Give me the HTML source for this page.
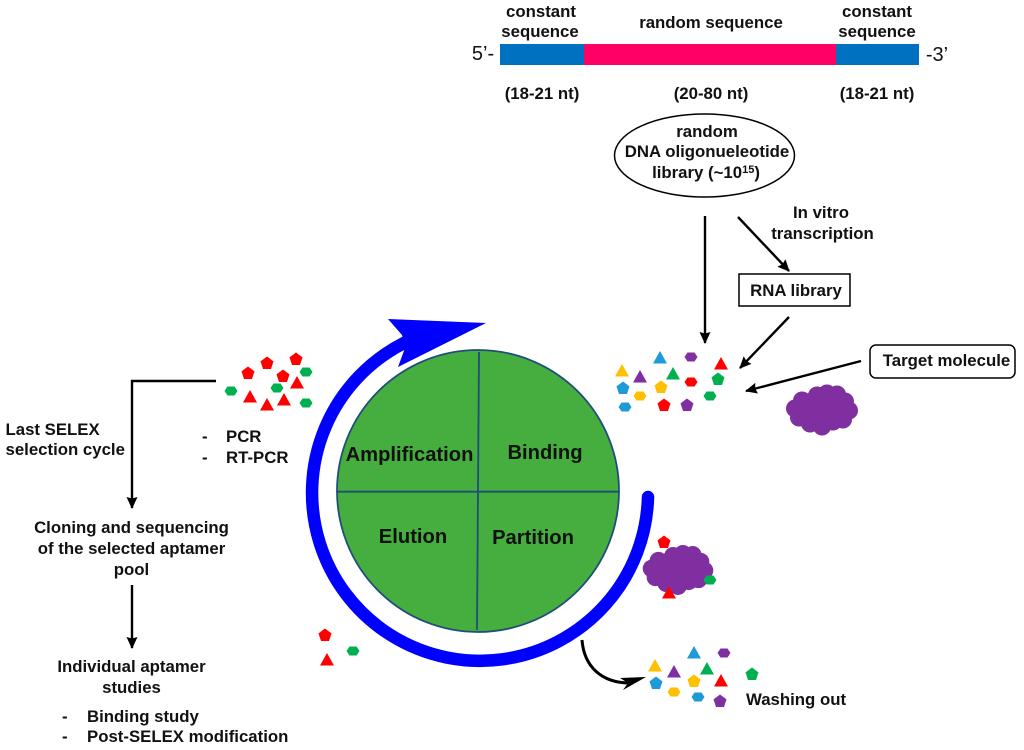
<!DOCTYPE html>
<html><head><meta charset="utf-8"><style>
html,body{margin:0;padding:0;background:#fff}
svg{display:block}
text{font-family:"Liberation Sans",Arial,sans-serif;font-weight:bold;fill:#111;font-size:16.8px;text-anchor:middle}
.l{text-anchor:start}
.c{font-size:20.2px}
.n{font-weight:normal;font-size:20px}
</style></head><body>
<svg width="1024" height="750" viewBox="0 0 1024 750" xmlns="http://www.w3.org/2000/svg">
<defs>
<polygon id="p" points="0,-6.5 6.5,-1.6 4,6 -4,6 -6.5,-1.6"/>
<polygon id="h" points="-3.5,-4.5 3.5,-4.5 6.5,0 3.5,4.5 -3.5,4.5 -6.5,0"/>
<polygon id="t" points="0,-7 7,5.5 -7,5.5"/>
<marker id="a" markerWidth="14" markerHeight="14" refX="11" refY="5.5" orient="auto" markerUnits="userSpaceOnUse"><polygon points="0,0 12,5.5 0,11 1.5,5.5" fill="#000"/></marker>
<g id="cl">
<ellipse cx="0" cy="0" rx="28" ry="19"/>
<circle cx="-5" cy="-14" r="9"/><circle cx="5" cy="-16" r="9"/><circle cx="15" cy="-15" r="9"/><circle cx="23" cy="-8" r="9"/>
<circle cx="27" cy="1" r="9"/><circle cx="21" cy="10" r="9"/><circle cx="11" cy="12" r="9"/><circle cx="0" cy="17" r="9"/>
<circle cx="-12" cy="14" r="9"/><circle cx="-23" cy="8" r="9"/><circle cx="-27" cy="-1" r="9"/><circle cx="-20" cy="-9" r="9"/>
</g>
</defs>

<!-- top sequence -->
<rect x="500" y="44" width="84" height="21" fill="#0070c0"/>
<rect x="584" y="44" width="252" height="21" fill="#ff0066"/>
<rect x="836" y="44" width="83" height="21" fill="#0070c0"/>
<text x="541" y="17">constant</text><text x="540" y="37">sequence</text>
<text x="711" y="28">random sequence</text>
<text x="877" y="17">constant</text><text x="877" y="37">sequence</text>
<text class="n" x="483" y="60">5’-</text>
<text class="n" x="937" y="61">-3’</text>
<text x="542" y="99">(18-21 nt)</text><text x="711" y="99">(20-80 nt)</text><text x="877" y="99">(18-21 nt)</text>

<ellipse cx="704.5" cy="155.5" rx="90" ry="41.5" fill="#fff" stroke="#000" stroke-width="1.5"/>
<text x="707" y="137">random</text>
<text x="707" y="157">DNA oligonueleotide</text>
<text x="706" y="178">library (~10<tspan font-size="11" dy="-5">15</tspan><tspan dy="5">)</tspan></text>

<text x="821" y="218">In vitro</text><text x="822.5" y="239">transcription</text>
<rect x="739" y="274" width="111" height="32" fill="#fff" stroke="#000" stroke-width="1.5"/>
<text x="796" y="296">RNA library</text>
<rect x="870" y="345" width="145" height="33" rx="6" fill="#fff" stroke="#000" stroke-width="1.5"/>
<text x="946.5" y="366">Target molecule</text>

<g stroke="#000" stroke-width="2.4" fill="none" marker-end="url(#a)">
<path d="M705 216V343"/>
<path d="M738 217L789 271"/>
<path d="M789 317L740 368"/>
<path d="M861 361L746 391"/>
<path d="M216 381H132V508"/>
<path d="M132 585V648"/>
</g>

<!-- circle -->
<circle cx="478" cy="491" r="141" fill="#45ae3e" stroke="#1f4e79" stroke-width="1.8"/>
<path d="M479 352L477 630M337 491.7H619" stroke="#1f4e79" stroke-width="1.8" fill="none"/>
<text class="c" x="409.5" y="461">Amplification</text>
<text class="c" x="545" y="459">Binding</text>
<text class="c" x="413" y="543">Elution</text>
<text class="c" x="533" y="544">Partition</text>

<!-- blue arrow -->
<path d="M648 497A168 168 0 1 1 404 343" fill="none" stroke="#0000ff" stroke-width="12.5" stroke-linecap="round"/>
<polygon points="388,319 486,323 398,367 405,348 402,335" fill="#0000ff"/>

<!-- left cluster -->
<g fill="#ff0000">
<use href="#p" x="267" y="363"/><use href="#p" x="296" y="359"/><use href="#p" x="248" y="373"/><use href="#p" x="283" y="376"/>
<use href="#t" x="297" y="383"/><use href="#t" x="250" y="397"/><use href="#t" x="284" y="400"/><use href="#t" x="267" y="405"/>
<use href="#p" x="325" y="635"/><use href="#t" x="327" y="660"/>
</g>
<g fill="#00b050">
<use href="#h" x="306" y="372"/><use href="#h" x="231" y="391"/><use href="#h" x="277" y="388"/><use href="#h" x="306" y="403"/>
<use href="#h" x="353" y="651"/>
</g>

<!-- right cluster -->
<use href="#t" x="622" y="371" fill="#ffc000"/><use href="#t" x="660" y="358" fill="#1e9ad6"/><use href="#h" x="691" y="357" fill="#7f2fa0"/>
<use href="#t" x="721" y="364" fill="#ff0000"/><use href="#t" x="640" y="377" fill="#7f2fa0"/><use href="#t" x="673" y="374" fill="#00b050"/>
<use href="#p" x="718" y="379" fill="#00b050"/><use href="#p" x="623" y="388" fill="#1e9ad6"/><use href="#p" x="661" y="387" fill="#ffc000"/>
<use href="#h" x="691" y="382" fill="#ff0000"/><use href="#h" x="640" y="396" fill="#ffc000"/><use href="#h" x="710" y="396" fill="#00b050"/>
<use href="#h" x="625" y="407" fill="#1e9ad6"/><use href="#p" x="664" y="405" fill="#ff0000"/><use href="#p" x="687" y="405" fill="#7f2fa0"/>

<!-- clouds -->
<use href="#cl" transform="translate(822 409.5)" fill="#7f2fa0"/>
<use href="#cl" transform="translate(678 569.5) scale(.98)" fill="#7f2fa0"/>
<use href="#p" x="664" y="542" fill="#ff0000"/><use href="#h" x="710" y="580" fill="#00b050"/><use href="#t" x="669" y="593" fill="#ff0000"/>

<!-- washing out -->
<use href="#t" x="655" y="666" fill="#ffc000"/><use href="#t" x="694" y="653" fill="#1e9ad6"/><use href="#h" x="724" y="653" fill="#7f2fa0"/>
<use href="#t" x="674" y="672" fill="#7f2fa0"/><use href="#t" x="707" y="669" fill="#00b050"/><use href="#t" x="721" y="681" fill="#ff0000"/>
<use href="#p" x="752" y="674" fill="#00b050"/><use href="#p" x="656" y="683" fill="#1e9ad6"/><use href="#p" x="694" y="681" fill="#ffc000"/>
<use href="#h" x="674" y="692" fill="#ffc000"/><use href="#h" x="698" y="697" fill="#1e9ad6"/><use href="#p" x="720" y="701" fill="#7f2fa0"/>

<path d="M582 640C584 666 601 683 630 683" fill="none" stroke="#000" stroke-width="3"/>
<polygon points="646,677 623,690 628,683 620,678" fill="#000"/>
<text class="l" x="746" y="705">Washing out</text>

<!-- left text -->
<text class="l" x="5.5" y="435">Last SELEX</text>
<text class="l" x="5.5" y="455">selection cycle</text>
<text class="l" x="202" y="442">-</text><text class="l" x="226" y="442">PCR</text>
<text class="l" x="202" y="463">-</text><text class="l" x="226" y="463">RT-PCR</text>
<text x="131.5" y="533">Cloning and sequencing</text>
<text x="131.5" y="554">of the selected aptamer</text>
<text x="131.5" y="575">pool</text>
<text x="131.5" y="672">Individual aptamer</text>
<text x="131.5" y="693">studies</text>
<text class="l" x="62" y="722">-</text><text class="l" x="87" y="722">Binding study</text>
<text class="l" x="62" y="742">-</text><text class="l" x="87" y="742">Post-SELEX modification</text>
</svg>
</body></html>
